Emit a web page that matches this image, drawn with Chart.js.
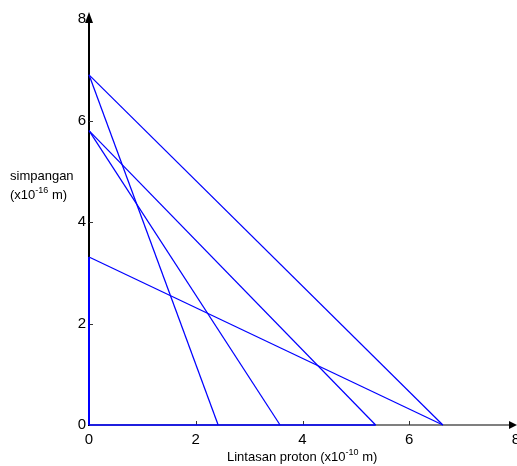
<!DOCTYPE html>
<html><head><meta charset="utf-8">
<script src="https://cdn.jsdelivr.net/npm/chart.js@4/dist/chart.umd.min.js"></script>
<style>html,body{margin:0;padding:0;background:#fff;}canvas{display:block;}</style>
</head><body>
<canvas id="c" width="517" height="466"></canvas>
<script>
// ---- data ----
const xTickValues = [0, 2, 4, 6, 8];
const yTickValues = [0, 2, 4, 6, 8];
// each slanted trajectory goes from (0, startY) on the vertical axis to (endX, 0) on the horizontal axis
const lineStartY = [6.9, 6.9, 5.8, 5.8, 3.31];
const lineEndX   = [2.42, 6.63, 3.58, 5.37, 6.63];
// blue segments lying along the axes
const baseSegmentX = [0, 5.37];   // along y = 0
const sideSegmentY = [0, 3.31];   // along x = 0
const xTitle = ['Lintasan proton (x10', '-10', ' m)'];
const yTitle1 = 'simpangan';
const yTitle2 = ['(x10', '-16', ' m)'];

const FONT = '"Liberation Sans", Arial, sans-serif';
const BLUE = '#0000ff';

function lineDs(points, width) {
  return {
    data: points,
    borderColor: BLUE, backgroundColor: BLUE,
    borderWidth: width, showLine: true, pointRadius: 0, clip: false, fill: false
  };
}

const datasets = [];
for (let i = 0; i < lineStartY.length; i++) {
  datasets.push(lineDs([{x: 0, y: lineStartY[i]}, {x: lineEndX[i], y: 0}], 1.25));
}
datasets.push(lineDs([{x: baseSegmentX[0], y: 0}, {x: baseSegmentX[1], y: 0}], 1.5));
datasets.push(lineDs([{x: 0, y: sideSegmentY[0]}, {x: 0, y: sideSegmentY[1]}], 2));

function drawSupText(ctx, parts, x, y, size, supSize) {
  ctx.textAlign = 'left';
  ctx.textBaseline = 'alphabetic';
  ctx.font = size + 'px ' + FONT;
  ctx.fillText(parts[0], x, y);
  x += ctx.measureText(parts[0]).width;
  ctx.font = supSize + 'px ' + FONT;
  ctx.fillText(parts[1], x, y - 6);
  x += ctx.measureText(parts[1]).width;
  ctx.font = size + 'px ' + FONT;
  ctx.fillText(parts[2], x, y);
}

const axesPlugin = {
  id: 'axesPlugin',
  beforeDatasetsDraw(chart) {
    const ctx = chart.ctx;
    const xs = chart.scales.x, ys = chart.scales.y;
    const x0 = xs.getPixelForValue(0), xMax = xs.getPixelForValue(8);
    const y0 = ys.getPixelForValue(0), yMax = ys.getPixelForValue(8);
    ctx.save();
    ctx.strokeStyle = '#555';
    ctx.lineWidth = 1.5;
    ctx.beginPath(); ctx.moveTo(x0, y0); ctx.lineTo(xMax - 4, y0); ctx.stroke();
    ctx.strokeStyle = '#000';
    ctx.lineWidth = 2;
    ctx.beginPath(); ctx.moveTo(x0, y0 + 1); ctx.lineTo(x0, yMax + 2); ctx.stroke();
    ctx.lineWidth = 1;
    ctx.strokeStyle = '#333';
    xTickValues.forEach(v => {
      if (v === 0 || v === 8) return;
      const px = Math.round(xs.getPixelForValue(v)) + 0.5;
      ctx.beginPath(); ctx.moveTo(px, y0); ctx.lineTo(px, y0 - 4); ctx.stroke();
    });
    yTickValues.forEach(v => {
      if (v === 0 || v === 8) return;
      const py = Math.round(ys.getPixelForValue(v)) + 0.5;
      ctx.beginPath(); ctx.moveTo(x0, py); ctx.lineTo(x0 + 4, py); ctx.stroke();
    });
    ctx.fillStyle = '#000';
    ctx.beginPath();
    ctx.moveTo(x0, yMax - 7); ctx.lineTo(x0 - 4, yMax + 4); ctx.lineTo(x0 + 4, yMax + 4); ctx.closePath(); ctx.fill();
    ctx.beginPath();
    ctx.moveTo(xMax + 1, y0); ctx.lineTo(xMax - 7, y0 - 4); ctx.lineTo(xMax - 7, y0 + 4); ctx.closePath(); ctx.fill();
    ctx.restore();
  },
  afterDraw(chart) {
    const ctx = chart.ctx;
    ctx.save();
    ctx.fillStyle = '#000';
    drawSupText(ctx, xTitle, 227, 461, 13, 9);
    ctx.font = '13px ' + FONT;
    ctx.textAlign = 'left';
    ctx.textBaseline = 'alphabetic';
    ctx.fillText(yTitle1, 10, 180);
    drawSupText(ctx, yTitle2, 10, 199, 13, 9);
    ctx.restore();
  }
};

new Chart(document.getElementById('c'), {
  type: 'scatter',
  data: { datasets },
  options: {
    responsive: false,
    animation: false,
    layout: { padding: { left: 0, right: 1, top: 19, bottom: 0 } },
    plugins: { legend: { display: false }, tooltip: { enabled: false } },
    scales: {
      x: {
        type: 'linear', min: 0, max: 8,
        afterBuildTicks: s => { s.ticks = xTickValues.map(v => ({value: v})); },
        afterFit: s => { s.height = 41; s.paddingLeft = 0; s.paddingRight = 0; },
        grid: { display: false, drawTicks: false, tickLength: 0 }, border: { display: false },
        ticks: { color: '#000', font: { size: 15, family: FONT }, padding: 6, maxRotation: 0, autoSkip: false }
      },
      y: {
        type: 'linear', min: 0, max: 8,
        afterBuildTicks: s => { s.ticks = yTickValues.map(v => ({value: v})); },
        afterFit: s => { s.width = 89; s.paddingTop = 0; s.paddingBottom = 0; },
        grid: { display: false, drawTicks: false, tickLength: 0 }, border: { display: false },
        ticks: { color: '#000', font: { size: 15, family: FONT }, padding: 3 }
      }
    }
  },
  plugins: [axesPlugin]
});
</script>
</body></html>
